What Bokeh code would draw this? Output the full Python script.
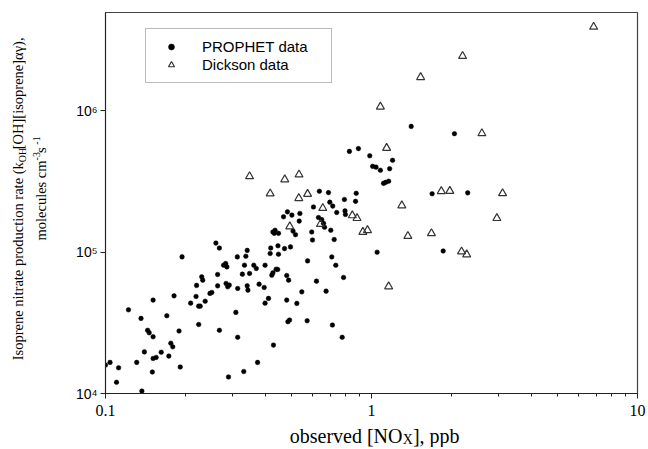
import math
from bokeh.plotting import figure
from bokeh.layouts import row, column
from bokeh.models import Legend, LegendItem, FixedTicker, ColumnDataSource
from bokeh.core.properties import value
from bokeh.embed import file_html
from bokeh.resources import INLINE

# ---------------- data ----------------
prophet_x = [0.100, 0.104, 0.112, 0.110, 0.137, 0.122, 0.136, 0.131, 0.140, 0.144,
             0.146, 0.151, 0.151, 0.150, 0.151, 0.155, 0.162, 0.170, 0.173, 0.176,
             0.179, 0.181, 0.189, 0.191, 0.194, 0.209, 0.219, 0.220, 0.224, 0.227,
             0.224, 0.230, 0.232, 0.237, 0.247, 0.251, 0.260, 0.268, 0.264, 0.264,
             0.268, 0.278, 0.283, 0.286, 0.284, 0.288, 0.292, 0.290, 0.309, 0.313,
             0.314, 0.314, 0.327, 0.333, 0.331, 0.337, 0.341, 0.341, 0.343, 0.348,
             0.361, 0.369, 0.373, 0.378, 0.395, 0.398, 0.398, 0.410, 0.416, 0.418,
             0.422, 0.426, 0.428, 0.426, 0.431, 0.434, 0.438, 0.444, 0.447, 0.447,
             0.445, 0.467, 0.471, 0.480, 0.483, 0.480, 0.485, 0.492, 0.488, 0.496,
             0.502, 0.507, 0.518, 0.524, 0.538, 0.535, 0.547, 0.575, 0.573, 0.596,
             0.600, 0.605, 0.621, 0.637, 0.632, 0.650, 0.660, 0.666, 0.675, 0.689,
             0.697, 0.715, 0.703, 0.709, 0.713, 0.724, 0.734, 0.740, 0.776, 0.785,
             0.791, 0.795, 0.798, 0.871, 0.876, 0.826, 0.893, 0.985, 1.01, 1.04,
             1.08, 1.17, 1.20, 1.11, 1.13, 1.16, 1.41, 2.05, 1.69, 2.30,
             1.05, 1.86]
prophet_y = [1.59e4, 1.66e4, 1.52e4, 1.20e4, 1.04e4, 3.91e4, 3.40e4, 1.66e4, 1.97e4, 2.80e4,
             2.69e4, 2.52e4, 4.58e4, 1.42e4, 1.77e4, 1.80e4, 1.96e4, 3.55e4, 1.84e4, 2.27e4,
             2.14e4, 4.91e4, 2.77e4, 1.54e4, 9.26e4, 4.36e4, 4.86e4, 5.82e4, 4.15e4, 4.15e4,
             3.08e4, 6.69e4, 6.34e4, 4.50e4, 5.11e4, 5.19e4, 1.16e5, 1.07e5, 6.96e4, 5.78e4,
             2.80e4, 8.09e4, 8.32e4, 7.87e4, 6.01e4, 5.69e4, 5.85e4, 1.31e4, 3.75e4, 9.26e4,
             5.54e4, 2.50e4, 6.99e4, 8.09e4, 1.43e4, 9.37e4, 1.03e5, 5.78e4, 5.39e4, 7.07e4,
             8.09e4, 7.67e4, 1.66e4, 5.94e4, 5.63e4, 8.09e4, 4.36e4, 4.71e4, 9.79e4, 1.07e5,
             6.88e4, 7.14e4, 2.20e4, 1.39e5, 1.36e5, 1.43e5, 7.58e4, 7.55e4, 9.68e4, 1.36e5,
             1.11e5, 1.78e5, 1.06e5, 6.84e4, 1.93e5, 4.58e4, 3.22e4, 3.31e4, 6.34e4, 1.09e5,
             1.83e5, 1.41e5, 1.33e5, 4.34e4, 1.88e5, 1.66e5, 5.24e4, 8.68e4, 3.27e4, 1.39e5,
             1.22e5, 2.09e5, 6.24e4, 2.70e5, 1.76e5, 1.70e5, 1.60e5, 1.50e5, 5.30e4, 2.64e5,
             2.26e5, 2.12e5, 1.43e5, 9.26e4, 3.05e4, 1.23e5, 8.09e4, 1.91e5, 2.50e4, 6.63e4,
             2.36e5, 1.96e5, 1.85e5, 2.29e5, 2.61e5, 5.17e5, 5.41e5, 4.81e5, 4.05e5, 4.00e5,
             3.80e5, 3.90e5, 4.47e5, 3.07e5, 3.12e5, 3.18e5, 7.77e5, 6.90e5, 2.59e5, 2.63e5,
             1.00e5, 1.02e5]

dickson_x = [6.84, 2.20, 1.53, 1.08, 2.60, 1.14, 0.348, 0.534, 0.472, 0.416,
             0.575, 0.533, 1.83, 1.97, 3.11, 1.30, 2.96, 0.656, 0.643, 0.493,
             0.847, 0.882, 0.928, 0.966, 1.37, 1.68, 2.18, 2.28, 1.16]
dickson_y = [3.93e6, 2.44e6, 1.73e6, 1.07e6, 6.93e5, 5.46e5, 3.44e5, 3.54e5, 3.27e5, 2.60e5,
             2.58e5, 2.41e5, 2.70e5, 2.71e5, 2.61e5, 2.14e5, 1.74e5, 2.05e5, 1.58e5, 1.52e5,
             1.82e5, 1.74e5, 1.39e5, 1.43e5, 1.30e5, 1.36e5, 1.01e5, 9.63e4, 5.72e4]

x_ticks = [0.1, 1, 10]
x_tick_labels = ["0.1", "1", "10"]
y_ticks = [1e4, 1e5, 1e6]
y_tick_labels = ["10\u2074", "10\u2075", "10\u2076"]
legend_labels = ["PROPHET data", "Dickson data"]

# title pieces (kept as real text; sub/superscripts as smaller pieces)
y_title_1 = ["Isoprene nitrate production rate (k", "OH", "[OH][isoprene]\u03b1\u03b3),"]
y_title_2 = ["molecules cm", "-3", " s", "-1"]
x_title = ["observed [NO", "X", "], ppb"]

SERIF = "Liberation Serif"
SANS = "Liberation Sans"

# ---------------- main plot ----------------
MAIN_W, MAIN_H = 586, 425
p = figure(width=MAIN_W, height=MAIN_H, x_axis_type="log", y_axis_type="log",
           x_range=(0.1, 10), y_range=(1e4, 4.97e6),
           output_backend="svg", toolbar_location=None,
           min_border_left=45, min_border_right=9, min_border_top=12, min_border_bottom=32)
p.grid.visible = False
p.outline_line_color = "#444444"
p.outline_line_width = 1.2
p.background_fill_color = "white"
p.border_fill_color = "white"

minor_x = [m * d for d in (0.1, 1) for m in range(2, 10)]
p.xaxis.ticker = FixedTicker(ticks=x_ticks, minor_ticks=minor_x)
p.yaxis.ticker = FixedTicker(ticks=y_ticks, minor_ticks=[])
p.xaxis.major_label_overrides = dict(zip(x_ticks, x_tick_labels))
p.yaxis.major_label_overrides = dict(zip(y_ticks, y_tick_labels))

for ax in (p.xaxis, p.yaxis):
    ax.axis_line_color = "#222222"
    ax.major_tick_line_color = "#222222"
    ax.minor_tick_line_color = "#222222"
    ax.major_tick_in = 0
    ax.major_tick_out = 5
    ax.minor_tick_in = 0
    ax.minor_tick_out = 3
    ax.major_label_text_color = "black"

p.xaxis.major_label_text_font = SERIF
p.xaxis.major_label_text_font_size = "16px"
p.xaxis.major_label_standoff = 6
p.yaxis.major_label_text_font = SANS
p.yaxis.major_label_text_font_size = "14px"
p.yaxis.major_label_standoff = 3

src_p = ColumnDataSource(dict(x=prophet_x, y=prophet_y))
src_d = ColumnDataSource(dict(x=dickson_x, y=dickson_y))
r_p = p.scatter("x", "y", source=src_p, marker="circle", size=4.6,
                fill_color="black", line_color="black", line_width=0.5)
r_d = p.scatter("x", "y", source=src_d, marker="triangle", size=8,
                fill_alpha=0, line_color="#333333", line_width=1.2)

legend = Legend(items=[LegendItem(label=legend_labels[0], renderers=[r_p]),
                       LegendItem(label=legend_labels[1], renderers=[r_d])],
                location=(40, 310), orientation="vertical",
                border_line_color="#777777", border_line_width=1,
                background_fill_color="white", background_fill_alpha=1,
                padding=9, spacing=1, margin=0,
                glyph_width=32, glyph_height=15, label_height=15, label_standoff=15,
                label_width=120,
                label_text_font=SANS, label_text_font_size="15px",
                label_text_color="black")
p.add_layout(legend, "center")


def text_panel(w, h):
    f = figure(width=w, height=h, x_range=(0, w), y_range=(0, h), title=None,
               x_axis_location=None, y_axis_location=None,
               output_backend="svg", toolbar_location=None, min_border=0)
    f.grid.visible = False
    f.outline_line_color = None
    f.background_fill_color = "white"
    f.border_fill_color = "white"
    return f


# ---------------- y-axis title panel (left), rotated text ----------------
LEFT_W = 60
left = text_panel(LEFT_W, MAIN_H)
rot = dict(angle=math.pi / 2, text_font=value(SERIF), text_baseline="middle",
           text_color="black")
# line 1 : main part ends where the subscript starts (page y 167)
left.text(x=[17], y=[MAIN_H - 167], text=[y_title_1[0]], text_align="right",
          text_font_size=value("14.5px"), **rot)
left.text(x=[21.5], y=[MAIN_H - 167], text=[y_title_1[1]], text_align="left",
          text_font_size=value("10px"), **rot)
left.text(x=[17], y=[MAIN_H - 152.6], text=[y_title_1[2]], text_align="left",
          text_font_size=value("14.5px"), **rot)
# line 2 : superscripts shifted toward the top of the glyphs (to the left)
left.text(x=[40], y=[MAIN_H - 165], text=[y_title_2[0]], text_align="right",
          text_font_size=value("14.5px"), **rot)
left.text(x=[35.5, 35.5], y=[MAIN_H - 165, MAIN_H - 147.4],
          text=[y_title_2[1], y_title_2[3]], text_align="left",
          text_font_size=value("10px"), **rot)
left.text(x=[40], y=[MAIN_H - 156.7], text=[y_title_2[2]], text_align="left",
          text_font_size=value("14.5px"), **rot)

# ---------------- x-axis title panel (bottom) ----------------
BOT_W, BOT_H = LEFT_W + MAIN_W, 22
bottom = text_panel(BOT_W, BOT_H)
bottom.text(x=[402], y=[12], text=[x_title[0]], text_align="right",
            text_font=value(SERIF), text_font_size=value("20px"),
            text_baseline="alphabetic", text_color="black")
bottom.text(x=[402.3], y=[8.5], text=[x_title[1]], text_align="left",
            text_font=value(SERIF), text_font_size=value("14px"),
            text_baseline="alphabetic", text_color="black")
bottom.text(x=[412.4], y=[12], text=[x_title[2]], text_align="left",
            text_font=value(SERIF), text_font_size=value("20px"),
            text_baseline="alphabetic", text_color="black")

layout = column(row(left, p, spacing=0), bottom, spacing=0)
open("out.html", "w").write(file_html(layout, INLINE))
